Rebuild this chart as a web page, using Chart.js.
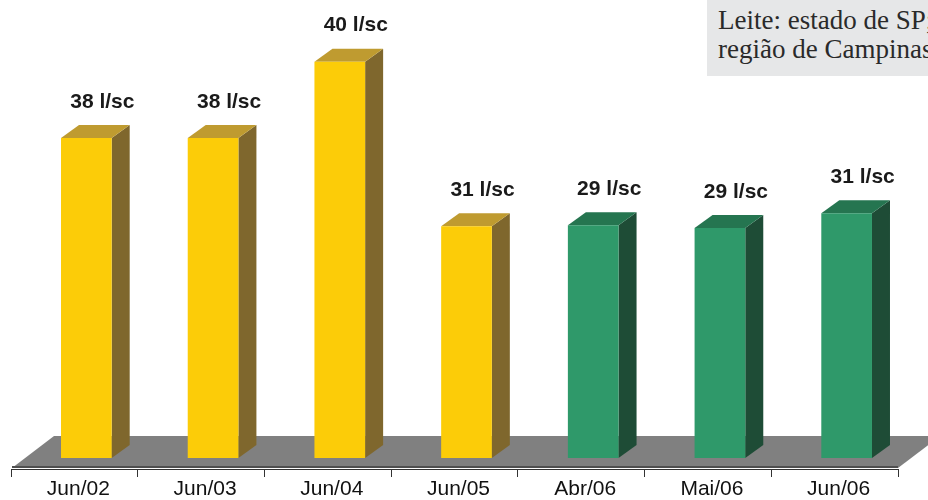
<!DOCTYPE html>
<html lang="pt-BR">
<head>
<meta charset="utf-8">
<script src="https://cdn.jsdelivr.net/npm/chart.js@4.4.1/dist/chart.umd.min.js"></script>
<style>
    html, body { margin: 0; padding: 0; background: #fff; }
    #wrap { position: relative; width: 928px; height: 500px; overflow: hidden; }
    #fonte {
        position: absolute; left: 707px; top: 0; width: 221px; height: 76px;
        box-sizing: border-box; padding: 6px 0 0 11px;
        background: #e6e7e8; color: #2a2a2a;
        font: 27px/29px 'Liberation Serif', 'Times New Roman', serif;
        white-space: nowrap; overflow: hidden;
    }
    #fonte span { display: block; }
</style>
</head>
<body>
<div id="wrap">
    <canvas id="grafico" width="928" height="500"></canvas>
    <div id="fonte"><span>Leite: estado de SP;</span><span>região de Campinas</span></div>
</div>
<script>
// Dados
const categorias = ['Jun/02', 'Jun/03', 'Jun/04', 'Jun/05', 'Abr/06', 'Mai/06', 'Jun/06'];
const valores    = [38, 38, 40, 31, 29, 29, 31];                     // rótulos (l/sc)
const alturas    = [32.3, 32.3, 40, 23.4, 23.5, 23.2, 24.7];         // altura das barras no original
const periodo    = ['ano', 'ano', 'ano', 'ano', 'mes', 'mes', 'mes'];

const cores = {
    ano: { frente: '#fccc08', topo: '#bf9b30', lado: '#7f672d' },
    mes: { frente: '#2f996a', topo: '#257550', lado: '#1e4c36' },
};

const DX = 18, DY = -13;      // profundidade das barras
const DESLOC = 12;            // barras deslocadas dentro da categoria

const barras3d = {
    id: 'barras3d',
    beforeDatasetsDraw(chart) {
        const { ctx, chartArea: a } = chart;
        // piso
        const yb = a.bottom - 1;
        ctx.save();
        ctx.fillStyle = '#808080';
        ctx.beginPath();
        ctx.moveTo(a.left + 1, yb);
        ctx.lineTo(a.right, yb);
        ctx.lineTo(a.right + 42, yb - 32);
        ctx.lineTo(a.left + 43, yb - 32);
        ctx.closePath();
        ctx.fill();
        ctx.fillStyle = '#4f4f4f';
        ctx.fillRect(a.left + 1, yb - 2, a.right - a.left - 1, 2);
        ctx.restore();

        ctx.save();
        ctx.translate(DESLOC, 0);
        chart.getDatasetMeta(0).data.forEach((bar, i) => {
            const c = cores[periodo[i]];
            const l = bar.x - bar.width / 2, r = bar.x + bar.width / 2;
            const t = bar.y, b = bar.base;
            ctx.fillStyle = c.lado;
            ctx.beginPath();
            ctx.moveTo(r, t);
            ctx.lineTo(r + DX, t + DY);
            ctx.lineTo(r + DX, b + DY);
            ctx.lineTo(r, b);
            ctx.closePath();
            ctx.fill();
            ctx.fillStyle = c.topo;
            ctx.beginPath();
            ctx.moveTo(l, t);
            ctx.lineTo(l + DX, t + DY);
            ctx.lineTo(r + DX, t + DY);
            ctx.lineTo(r, t);
            ctx.closePath();
            ctx.fill();
        });
    },
    afterDatasetsDraw(chart) {
        const ctx = chart.ctx;
        ctx.restore();
        ctx.save();
        ctx.font = 'bold 21px "Liberation Sans", Arial, sans-serif';
        ctx.fillStyle = '#1a1a1a';
        ctx.textAlign = 'center';
        ctx.textBaseline = 'middle';
        chart.getDatasetMeta(0).data.forEach((bar, i) => {
            ctx.fillText(valores[i] + ' l/sc', bar.x + DESLOC + 16, bar.y - 36);
        });
        ctx.restore();
    }
};

new Chart(document.getElementById('grafico'), {
    type: 'bar',
    data: {
        labels: categorias,
        datasets: [{
            data: alturas,
            backgroundColor: periodo.map(p => cores[p].frente),
            borderWidth: 0,
            barPercentage: 0.4,
            categoryPercentage: 1,
            clip: false,
        }]
    },
    options: {
        responsive: false,
        animation: false,
        events: [],
        layout: { padding: { left: 11, right: 30, top: 0, bottom: 0 } },
        plugins: { legend: { display: false }, tooltip: { enabled: false } },
        scales: {
            x: {
                afterFit(scale) { scale.height = 31; },
                grid: { offset: true, drawOnChartArea: false, tickLength: 8, color: '#333' },
                border: { display: true, color: '#333', width: 1 },
                ticks: {
                    color: '#111',
                    font: { family: '"Liberation Sans", Arial, sans-serif', size: 21 },
                    labelOffset: 4,
                    padding: 0,
                    maxRotation: 0,
                }
            },
            y: { display: false, min: -1.11, max: 46.22 }
        }
    },
    plugins: [barras3d]
});
</script>
</body>
</html>
